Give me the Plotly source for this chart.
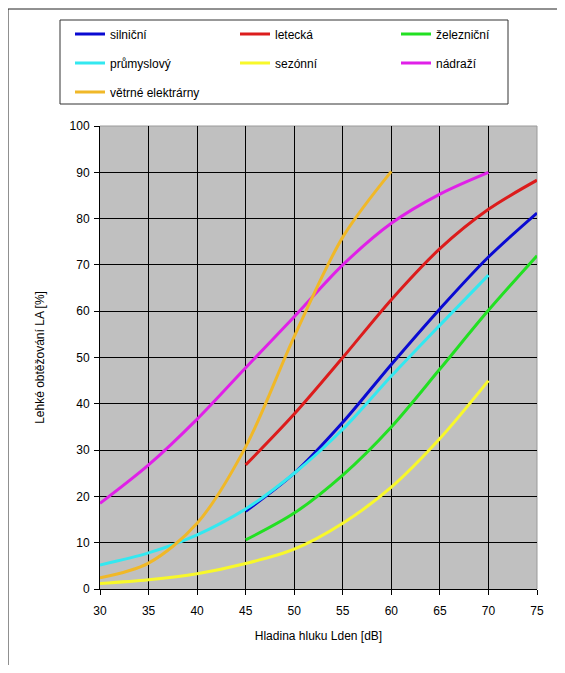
import plotly.graph_objects as go

silnicni_x = [45, 50, 55, 60, 65, 70, 75]
silnicni_y = [16.8, 25, 36, 48.5, 60.5, 71.7, 81.2]

letecka_x = [45, 50, 55, 60, 65, 70, 75]
letecka_y = [26.8, 37.8, 50, 62.5, 73.5, 82, 88.3]

zeleznicni_x = [45, 50, 55, 60, 65, 70, 75]
zeleznicni_y = [10.6, 16.4, 24.6, 35, 47.5, 60.2, 72]

prumyslovy_x = [30, 35, 40, 45, 50, 55, 60, 65, 70]
prumyslovy_y = [5.2, 7.8, 11.7, 17.3, 25, 34.5, 46, 57, 67.8]

sezonni_x = [30, 35, 40, 45, 50, 55, 60, 65, 70]
sezonni_y = [1.2, 2, 3.3, 5.5, 8.6, 14.2, 22, 32.5, 45]

nadrazi_x = [30, 35, 40, 45, 50, 55, 60, 65, 70]
nadrazi_y = [18.5, 26.8, 36.7, 47.8, 58.8, 70, 79, 85.3, 90]

vetrne_x = [30, 35, 40, 45, 50, 55, 60]
vetrne_y = [2.4, 5.6, 14.2, 30.7, 54.5, 76, 90.2]

series_names = ["silniční", "letecká", "železniční", "průmyslový",
                "sezónní", "nádraží", "větrné elektrárny"]
series_x = [silnicni_x, letecka_x, zeleznicni_x, prumyslovy_x,
            sezonni_x, nadrazi_x, vetrne_x]
series_y = [silnicni_y, letecka_y, zeleznicni_y, prumyslovy_y,
            sezonni_y, nadrazi_y, vetrne_y]
series_colors = ["#0a0ad2", "#dc1c1c", "#22e022", "#33e8f0",
                 "#f8f82a", "#e020e8", "#f0b828"]

x_ticks = [30, 35, 40, 45, 50, 55, 60, 65, 70, 75]
y_ticks = [0, 10, 20, 30, 40, 50, 60, 70, 80, 90, 100]

FONT = "Liberation Sans, Arial, sans-serif"

# page has an 8px body margin; figure coordinates = page coordinates - 8
OFF = 8
W, H = 549, 657
PL, PR, PT, PB = 100, 537, 126, 589          # plot area in page pixels
L, T = PL - OFF, PT - OFF
R, B = W - (PR - OFF), H - (PB - OFF)
pw, ph = PR - PL, PB - PT

def px(xpage):
    return (xpage - PL) / pw

def py(ypage):
    return (PB - ypage) / ph

# legend grid positions (page pixels): text left edge and row centre
col_text_x = [112, 277, 438]
row_y = [34, 63, 92]

fig = go.Figure()
layout_legends = {}
for i, (name, xs, ys, col) in enumerate(zip(series_names, series_x, series_y, series_colors)):
    lg = "legend" if i == 0 else f"legend{i + 1}"
    fig.add_trace(go.Scatter(
        x=xs, y=ys, name=name, mode="lines",
        line=dict(color=col, width=3, shape="spline", smoothing=0.9),
        legend=lg,
    ))
    c, r = i % 3, i // 3
    layout_legends[lg] = dict(
        x=px(col_text_x[c] - 42), y=py(row_y[r]),
        xanchor="left", yanchor="middle", orientation="h",
        bgcolor="rgba(0,0,0,0)", borderwidth=0,
        font=dict(family=FONT, size=12, color="#000"),
        itemclick=False, itemdoubleclick=False,
    )

fig.update_layout(
    width=W, height=H,
    margin=dict(l=L, r=R, t=T, b=B, pad=0),
    paper_bgcolor="white",
    plot_bgcolor="#c0c0c0",
    font=dict(family=FONT, size=12, color="#000"),
    showlegend=True,
    **layout_legends,
    xaxis=dict(
        range=[30, 75], tickvals=x_ticks, ticktext=[str(v) for v in x_ticks],
        showgrid=True, gridcolor="#000", gridwidth=1,
        showline=True, linecolor="#000", linewidth=1,
        ticks="outside", ticklen=5, tickcolor="#000",
        ticklabelstandoff=6,
        zeroline=False,
        tickfont=dict(family=FONT, size=12, color="#000"),
        title=dict(text="Hladina hluku Lden [dB]", standoff=14,
                   font=dict(family=FONT, size=12, color="#000")),
    ),
    yaxis=dict(
        range=[0, 100], tickvals=y_ticks, ticktext=[str(v) for v in y_ticks],
        showgrid=True, gridcolor="#000", gridwidth=1,
        showline=True, linecolor="#000", linewidth=1,
        ticks="outside", ticklen=5, tickcolor="#000",
        ticklabelstandoff=2,
        zeroline=False,
        tickfont=dict(family=FONT, size=12, color="#000"),
        title=dict(text="Lehké obtěžování LA [%]", standoff=22,
                   font=dict(family=FONT, size=12, color="#000")),
    ),
    shapes=[
        dict(type="rect", xref="paper", yref="paper",
             x0=px(8), x1=px(700), y0=py(800), y1=py(9),
             line=dict(color="#222", width=1), fillcolor="rgba(0,0,0,0)", layer="below"),
        dict(type="rect", xref="paper", yref="paper",
             x0=px(60), x1=px(508), y0=py(104), y1=py(20),
             line=dict(color="#333", width=1), fillcolor="rgba(0,0,0,0)", layer="above"),
        dict(type="line", xref="paper", yref="paper", x0=0, x1=1, y0=1, y1=1,
             line=dict(color="#9a9a9a", width=1), layer="between"),
        dict(type="line", xref="paper", yref="paper", x0=1, x1=1, y0=0, y1=1,
             line=dict(color="#9a9a9a", width=1), layer="between"),
    ],
)

fig.write_html("out.html")
